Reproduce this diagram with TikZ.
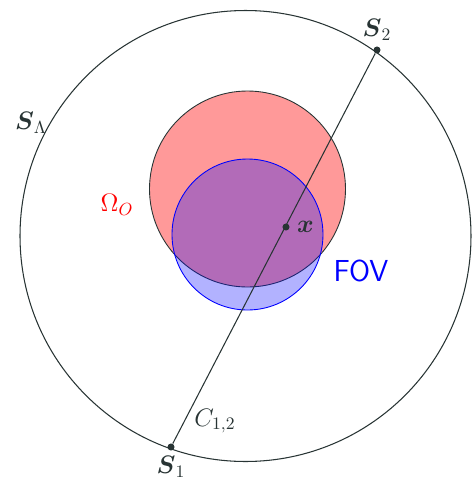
\documentclass[tikz,border=0pt]{standalone}
\usepackage{amsmath}
\usepackage{amssymb}
\usetikzlibrary{positioning,calc}

\definecolor{slate}{RGB}{40,52,52}

\begin{document}
\begin{tikzpicture}[
    x=0.02cm, y=-0.02cm,
    font=\Large,
    edge/.style={draw=slate, line width=0.6pt},
    dot/.style={circle, fill=slate, inner sep=0pt, minimum size=4pt},
    lbl/.style={text=slate, inner sep=1pt}
]
\useasboundingbox (0,0) rectangle (472,481);

% ============================================================
% MESSGEBIET
% ============================================================
\coordinate (cen) at (245.5,236);
\draw[edge] (cen) circle[radius=225.5];

% ============================================================
% OBJEKT UND SICHTFELD
% ============================================================
\fill[red, fill opacity=0.4] (247.5,189) circle[radius=98];
\draw[slate, line width=0.5pt] (247.5,189) circle[radius=98];
\fill[blue, fill opacity=0.3] (247.5,234.5) circle[radius=75.5];
\draw[blue, line width=0.5pt] (247.5,234.5) circle[radius=75.5];

% ============================================================
% SEHNE
% ============================================================
\node[dot] (s1) at (171,447) {};
\node[dot] (s2) at (377,50) {};
\node[dot] (xp) at (286,227) {};
\draw[edge] (s1) -- (s2);

% ============================================================
% BESCHRIFTUNGEN
% ============================================================
\node[lbl, below=2pt of s1] (ls1) {$\boldsymbol{S}_1$};
\node[lbl, above=2pt of s2] (ls2) {$\boldsymbol{S}_2$};
\node[lbl, right=3pt of xp] (lx) {$\boldsymbol{x}$};
\node[lbl] (lc) at (215,421) {$C_{1,2}$};
\node[lbl] (lsl) at (31,123) {$\boldsymbol{S}_{\Lambda}$};
\node[text=red] (lom) at (117,205) {$\Omega_O$};
\node[text=blue, font=\LARGE\sffamily] (lfov) at (361,271) {FOV};

\end{tikzpicture}
\end{document}
